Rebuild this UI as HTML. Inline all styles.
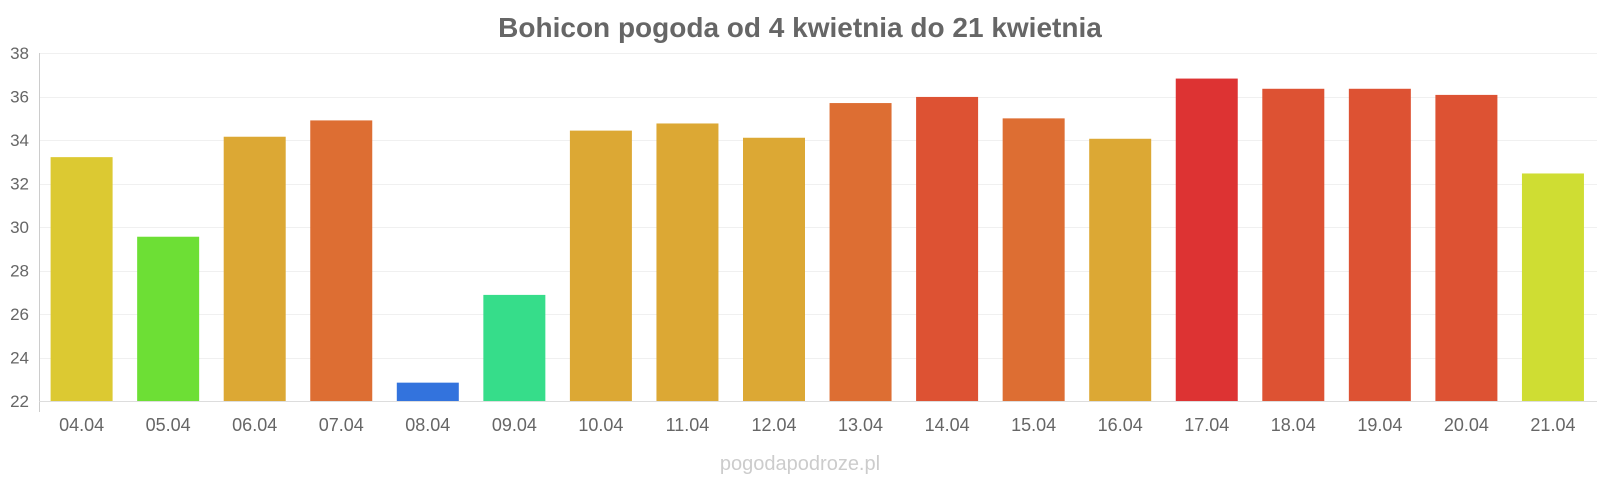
<!DOCTYPE html>
<html><head><meta charset="utf-8"><style>
body{margin:0;background:#fff;}
svg{display:block;font-family:"Liberation Sans",sans-serif;}
</style></head><body>
<svg width="1600" height="480" viewBox="0 0 1600 480">
<text x="800" y="37" text-anchor="middle" font-size="28" font-weight="bold" fill="#666">Bohicon pogoda od 4 kwietnia do 21 kwietnia</text>
<g id="grid" stroke="#f0f0f0" stroke-width="1"></g>
<line x1="39.5" x2="39.5" y1="53" y2="412" stroke="#ccc"/>
<line x1="39" x2="1597" y1="401.5" y2="401.5" stroke="#ddd"/>
<g font-size="17" fill="#666" text-anchor="end" id="yl"></g>
<g id="bars"></g>
<text x="800" y="470" text-anchor="middle" font-size="20" fill="#ccc">pogodapodroze.pl</text>
<g font-size="18" fill="#666" text-anchor="middle" id="lbl"></g>
<script>
(function(){
var ns="http://www.w3.org/2000/svg";
var g=document.getElementById("grid"),yl=document.getElementById("yl");
for(var k=0;k<9;k++){var y=401-k*43.5;
if(k>0){var ln=document.createElementNS(ns,"line");ln.setAttribute("x1",39);ln.setAttribute("x2",1597);ln.setAttribute("y1",Math.round(y)+0.5);ln.setAttribute("y2",Math.round(y)+0.5);g.appendChild(ln);}
var t=document.createElementNS(ns,"text");t.setAttribute("x",29);t.setAttribute("y",y+6);t.textContent=22+2*k;yl.appendChild(t);}
var tops=[154,232,134,118,375,289,128,121,135,101,95,116,136,77,87,87,93,170];
var cols=["#dcc932","#6ddf35","#dca834","#dd6e33","#3373dd","#36dd8a","#dca834","#dca834","#dca834","#dd6e33","#dd5233","#dd6e33","#dca834","#dd3333","#dd5233","#dd5233","#dd5233","#cfdd33"];
var lbl=["04.04","05.04","06.04","07.04","08.04","09.04","10.04","11.04","12.04","13.04","14.04","15.04","16.04","17.04","18.04","19.04","20.04","21.04"];
var b=document.getElementById("bars"),l=document.getElementById("lbl");
for(var i=0;i<18;i++){var cx=81.6+i*86.55;var by=tops[i]*1.0204;var r=document.createElementNS(ns,"rect");
r.setAttribute("x",cx-31);r.setAttribute("y",by);r.setAttribute("width",62);r.setAttribute("height",401-by);
r.setAttribute("fill",cols[i]);b.appendChild(r);
var t=document.createElementNS(ns,"text");t.setAttribute("x",cx);t.setAttribute("y",431);t.textContent=lbl[i];l.appendChild(t);}
})();
</script>
</svg>
</body></html>
